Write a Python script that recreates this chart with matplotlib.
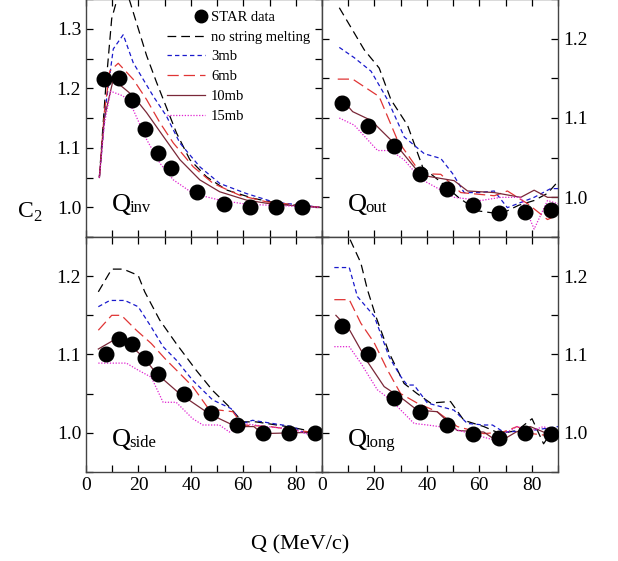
import matplotlib

matplotlib.use("Agg")
import matplotlib.pyplot as plt  # noqa: E402
from matplotlib.legend_handler import HandlerLine2D  # noqa: E402
from matplotlib.lines import Line2D  # noqa: E402
from matplotlib.ticker import FormatStrFormatter, MultipleLocator  # noqa: E402

plt.rcParams["font.family"] = ["Liberation Serif", "DejaVu Serif"]
plt.rcParams["mathtext.fontset"] = "custom"
plt.rcParams["mathtext.rm"] = "Liberation Serif"

# ---- STAR data ----
q_inv_data = [7, 12.5, 17.5, 22.5, 27.5, 32.5, 42.5, 52.5, 62.5, 72.5, 82.5]
c_inv_data = [1.215, 1.218, 1.180, 1.131, 1.091, 1.066, 1.026, 1.005, 1.0, 1.0, 1.0]
q_out_data = [7.5, 17.5, 27.5, 37.5, 47.5, 57.5, 67.5, 77.5, 87.5]
c_out_data = [1.119, 1.090, 1.065, 1.030, 1.010, 0.990, 0.980, 0.981, 0.984]
q_side_data = [7.5, 12.5, 17.5, 22.5, 27.5, 37.5, 47.5, 57.5, 67.5, 77.5, 87.5]
c_side_data = [1.100, 1.120, 1.114, 1.095, 1.075, 1.050, 1.025, 1.010, 1.0, 1.0, 1.0]
q_long_data = [7.5, 17.5, 27.5, 37.5, 47.5, 57.5, 67.5, 77.5, 87.5]
c_long_data = [1.136, 1.100, 1.044, 1.026, 1.010, 0.999, 0.994, 1.0, 0.999]

# ---- AMPT curves: (Q list, C2 list) per panel and model ----
inv_nsm = ([5.1, 7.5, 9.8, 12.5, 14.9, 16.8, 23.1, 26.9, 32, 34.5, 39.6, 46, 53.6, 63.8, 73.9, 89],
           [1.051, 1.20, 1.317, 1.36, 1.37, 1.345, 1.255, 1.21, 1.153, 1.125, 1.08, 1.051, 1.029, 1.015, 1.006, 1.0])
inv_3mb = ([5.1, 7.5, 10.4, 14.2, 18, 25.6, 30.7, 35.8, 43.4, 51, 61.2, 71.4, 89],
           [1.05, 1.17, 1.266, 1.29, 1.243, 1.187, 1.153, 1.108, 1.068, 1.04, 1.023, 1.009, 1.0])
inv_6mb = ([5.1, 7.0, 9.1, 12.3, 18, 23.1, 28.2, 33.3, 40.9, 48.5, 58.7, 68.9, 89],
           [1.05, 1.16, 1.229, 1.242, 1.215, 1.181, 1.142, 1.108, 1.068, 1.04, 1.02, 1.009, 1.0])
inv_10mb = ([5.1, 7.0, 10.4, 18, 23.1, 29.5, 35.8, 43.4, 51, 61.2, 71.4, 89],
            [1.05, 1.15, 1.215, 1.187, 1.159, 1.119, 1.08, 1.046, 1.026, 1.012, 1.005, 1.0])
inv_15mb = ([5.1, 7.0, 9.4, 14.2, 18, 23.1, 28.2, 33.3, 40.9, 51, 61.2, 89],
            [1.05, 1.14, 1.195, 1.187, 1.164, 1.114, 1.074, 1.046, 1.023, 1.012, 1.005, 1.0])

out_nsm = ([6.6, 16.1, 21.8, 26.3, 32.6, 38.4, 45, 52, 59.3, 68.2, 75, 80.9, 86, 90],
           [1.239, 1.186, 1.163, 1.123, 1.091, 1.038, 1.02, 1.0, 0.983, 0.979, 0.99, 0.996, 1.005, 1.02])
out_3mb = ([6.6, 12.3, 18.7, 25, 31.4, 39, 45.3, 49.8, 54.2, 60, 65.7, 70.7, 80.9, 87.2, 90],
           [1.189, 1.176, 1.159, 1.123, 1.076, 1.055, 1.049, 1.030, 1.006, 1.006, 1.008, 0.987, 1.0, 1.011, 1.011])
out_6mb = ([6.0, 11.7, 21.8, 28.8, 37.7, 45.3, 52.9, 65.7, 70.7, 78.4, 86, 90],
           [1.149, 1.149, 1.127, 1.072, 1.030, 1.029, 1.006, 1.002, 1.008, 0.992, 0.972, 0.978])
out_10mb = ([6.6, 11.7, 18.7, 28.8, 37.7, 50.4, 55.5, 65.7, 75.8, 80.9, 86, 90],
            [1.127, 1.108, 1.097, 1.064, 1.028, 1.021, 1.008, 1.006, 1.0, 1.009, 1.0, 1.0])
out_15mb = ([6.6, 12.3, 21.2, 26.3, 31.4, 37.7, 50.4, 60.6, 68.2, 75.8, 80.9, 86, 90],
            [1.10, 1.091, 1.059, 1.059, 1.047, 1.023, 1.0, 0.996, 1.0, 1.0, 0.960, 0.996, 0.992])

side_nsm = ([4.7, 9.8, 14.2, 19.9, 22.4, 28.1, 34.4, 42, 48.3, 54.7, 59.7, 64.8, 78.7, 90],
            [1.180, 1.209, 1.209, 1.201, 1.180, 1.144, 1.114, 1.080, 1.054, 1.033, 1.014, 1.014, 1.007, 0.999])
side_3mb = ([4.7, 9.1, 14.8, 19.9, 24.9, 29.4, 34.4, 40.7, 48.3, 55.3, 59.7, 63.5, 78.7, 86.3, 90],
            [1.161, 1.169, 1.169, 1.161, 1.135, 1.110, 1.093, 1.067, 1.042, 1.031, 1.012, 1.016, 1.008, 0.995, 0.999])
side_6mb = ([4.7, 9.8, 13.5, 19.2, 24.9, 30.6, 35.7, 40.7, 47.1, 50.9, 56, 59.7, 70, 90],
            [1.131, 1.150, 1.150, 1.131, 1.114, 1.093, 1.076, 1.059, 1.029, 1.029, 1.027, 1.01, 1.008, 0.999])
side_10mb = ([4.7, 10.4, 16.7, 21.8, 26.8, 35.7, 45.8, 50.9, 57.2, 64, 67.3, 90],
             [1.107, 1.118, 1.112, 1.097, 1.076, 1.050, 1.027, 1.018, 1.008, 1.008, 0.999, 1.001])
side_15mb = ([4.7, 15.4, 19.9, 24.9, 29.4, 34.4, 40.7, 44.6, 50.9, 54.7, 59.7, 68.6, 78.7, 84, 90],
             [1.089, 1.089, 1.080, 1.071, 1.039, 1.039, 1.018, 1.010, 1.010, 1.001, 1.012, 1.008, 1.005, 0.999, 0.999])

long_nsm = ([7.5, 10.4, 14.8, 17.3, 20.5, 25.6, 31.3, 36.3, 41.4, 49, 54.1, 61.7, 68, 74.4, 80.1, 84.5, 89],
            [1.28, 1.249, 1.217, 1.183, 1.149, 1.102, 1.063, 1.050, 1.038, 1.040, 1.016, 1.008, 0.999, 1.003, 1.018, 0.986, 1.008])
long_3mb = ([4.7, 10.4, 13.5, 19.9, 25.6, 30, 32.5, 35.1, 40.2, 50.3, 55.4, 61.7, 65, 69.3, 80, 90],
            [1.211, 1.211, 1.174, 1.149, 1.097, 1.072, 1.061, 1.061, 1.038, 1.029, 1.012, 1.010, 1.010, 1.001, 1.003, 1.008])
long_6mb = ([4.7, 10.4, 14.8, 19.9, 25, 30, 36.3, 43.9, 51.6, 61.7, 69, 74.4, 80, 90],
            [1.170, 1.170, 1.140, 1.115, 1.080, 1.050, 1.038, 1.027, 1.008, 0.999, 1.001, 1.008, 0.999, 0.995])
long_10mb = ([5.3, 10.4, 17.3, 23.7, 31.3, 36.3, 43.9, 51.6, 61.7, 67.4, 74, 79.4, 86, 90],
             [1.150, 1.132, 1.091, 1.059, 1.042, 1.029, 1.027, 1.003, 1.001, 0.988, 1.001, 1.008, 0.999, 0.995])
long_15mb = ([4.7, 10.4, 14.8, 21.1, 26.2, 35.1, 40.2, 49, 56.6, 65.5, 74.4, 80, 84.5, 90],
             [1.110, 1.110, 1.089, 1.055, 1.042, 1.012, 1.010, 1.006, 0.999, 0.991, 1.008, 1.003, 1.008, 0.999])

models = ["no string melting", "3mb", "6mb", "10mb", "15mb"]
colors = ["black", "#1a1acc", "#e03535", "#7a2838", "#e020d0"]
styles = [(0, (7, 4)), (0, (3.5, 2.5)), (0, (9, 4)), "-", (0, (1, 1.3))]

panels = [
    ("inv", q_inv_data, c_inv_data, [inv_nsm, inv_3mb, inv_6mb, inv_10mb, inv_15mb], (0.95, 1.35)),
    ("out", q_out_data, c_out_data, [out_nsm, out_3mb, out_6mb, out_10mb, out_15mb], (0.95, 1.25)),
    ("side", q_side_data, c_side_data, [side_nsm, side_3mb, side_6mb, side_10mb, side_15mb], (0.95, 1.25)),
    ("long", q_long_data, c_long_data, [long_nsm, long_3mb, long_6mb, long_10mb, long_15mb], (0.95, 1.25)),
]


class RightMarker(HandlerLine2D):
    """Put the data marker at the right end of the handle, next to the text."""

    def create_artists(self, legend, orig_handle, xdescent, ydescent, width, height, fontsize, trans):
        m = Line2D([width - xdescent - 0.3 * fontsize], [height / 2 - ydescent], ls="none",
                   marker="o", color="black", markersize=9)
        m.set_transform(trans)
        return [m]


fig = plt.figure(figsize=(6.18, 5.61), dpi=100)
L, W = 86 / 618, 236 / 618
rects = [(L, 1 - 237 / 561, W, 238 / 561), (L + W, 1 - 237 / 561, W, 238 / 561),
         (L, 1 - 472 / 561, W, 235 / 561), (L + W, 1 - 472 / 561, W, 235 / 561)]

for k, (name, qd, cd, curves, ylim) in enumerate(panels):
    ax = fig.add_axes(rects[k])
    for (q, c), lab, col, ls in zip(curves, models, colors, styles):
        ax.plot(q, c, color=col, ls=ls, lw=0.9, label=lab)
    ax.plot(qd, cd, "o", color="black", ms=10.5, label="STAR data", zorder=5)
    ax.set_xlim(0, 90)
    ax.set_ylim(*ylim)
    ax.xaxis.set_major_locator(MultipleLocator(20))
    ax.xaxis.set_minor_locator(MultipleLocator(10))
    ax.yaxis.set_major_locator(MultipleLocator(0.1))
    ax.yaxis.set_minor_locator(MultipleLocator(0.05))
    ax.yaxis.set_major_formatter(FormatStrFormatter("%.1f"))
    ax.tick_params(which="both", direction="in", top=True, bottom=True, left=True, right=True,
                   length=5, width=0.9, labelsize=14)
    for s in ax.spines.values():
        s.set_linewidth(1.0)
        s.set_color("#444444")
    if k % 2 == 1:
        ax.tick_params(labelleft=False, labelright=True)
    if k < 2:
        ax.tick_params(labelbottom=False)
    ax.text(0.11, 0.11, "Q", transform=ax.transAxes, fontsize=19)
    ax.text(0.185, 0.105, name, transform=ax.transAxes, fontsize=12)
    if k == 0:
        h, lbl = ax.get_legend_handles_labels()
        order = [5, 0, 1, 2, 3, 4]
        ax.legend([h[i] for i in order], [lbl[i] for i in order], loc="upper right",
                  frameon=False, fontsize=10.5, handlelength=2.6, handletextpad=0.4,
                  labelspacing=0.45, borderaxespad=0.3, borderpad=0.5,
                  handler_map={h[5]: RightMarker()})

fig.text(30 / 618, 1 - 212 / 561, r"$\mathrm{C}_2$", fontsize=17, ha="center", va="center")
fig.text(300 / 618, 1 - 545 / 561, "Q (MeV/c)", fontsize=16, ha="center", va="center")
fig.savefig("out.png", dpi=100)
